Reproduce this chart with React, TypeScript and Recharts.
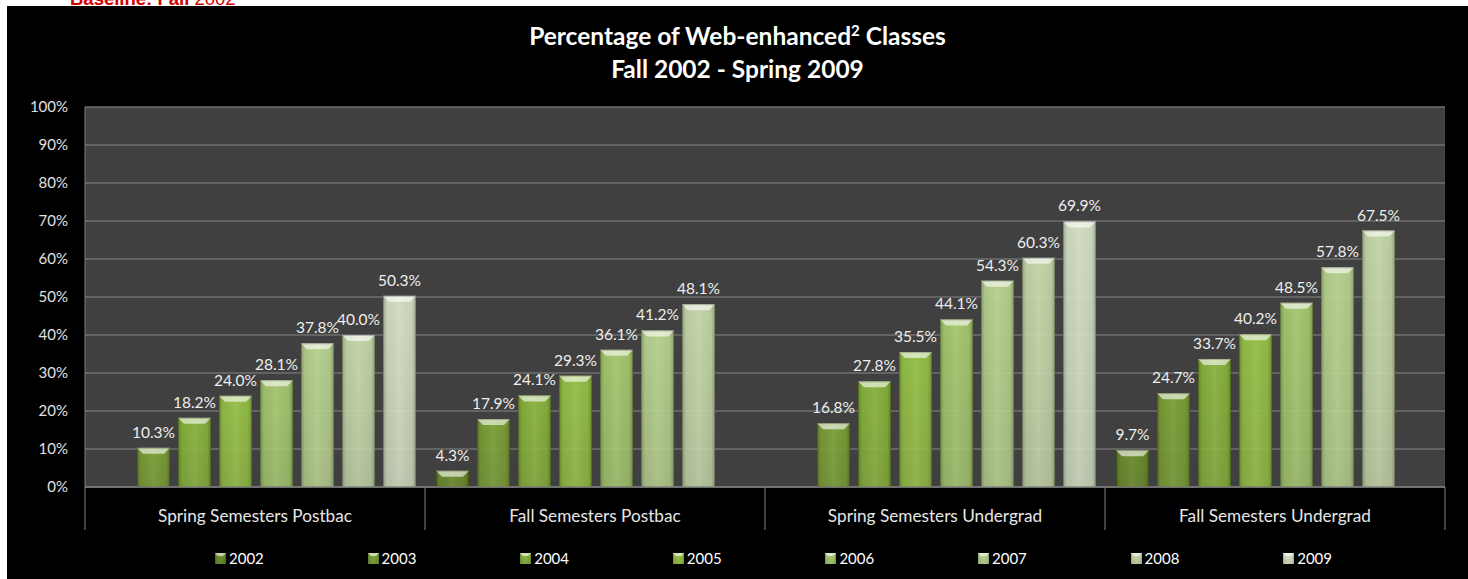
import { BarChart, Bar, XAxis, YAxis, CartesianGrid, Legend, LabelList } from "recharts";

const categories = [
  "Spring Semesters Postbac",
  "Fall Semesters Postbac",
  "Spring Semesters Undergrad",
  "Fall Semesters Undergrad",
];
const years = ["2002", "2003", "2004", "2005", "2006", "2007", "2008", "2009"];

// one value per category, null where the semester is not in the range
const y2002 = [null, 4.3, null, 9.7];
const y2003 = [10.3, 17.9, 16.8, 24.7];
const y2004 = [18.2, 24.1, 27.8, 33.7];
const y2005 = [24.0, 29.3, 35.5, 40.2];
const y2006 = [28.1, 36.1, 44.1, 48.5];
const y2007 = [37.8, 41.2, 54.3, 57.8];
const y2008 = [40.0, 48.1, 60.3, 67.5];
const y2009 = [50.3, null, 69.9, null];
const yTicks = [0, 10, 20, 30, 40, 50, 60, 70, 80, 90, 100];

const seriesValues = [y2002, y2003, y2004, y2005, y2006, y2007, y2008, y2009];
const COLORS = ["#6d8e2b", "#7ca234", "#8ab63b", "#97c445", "#a8cc6f", "#bbd690", "#c8dbab", "#d8e4c6"];

const data = categories.map((name, i) => {
  const row: Record<string, string | number | null> = { name };
  years.forEach((yr, s) => {
    row[yr] = seriesValues[s][i];
  });
  return row;
});

const W = 1461;
const H = 573;
const M = { top: 101, right: 23, bottom: 49, left: 0 };
const Y_W = 78;
const X_H = 43;
const HALF_BAND = (W - M.right - M.left - Y_W) / categories.length / 2;
const FONT = "Lato, 'Open Sans', sans-serif";

function GlossyBar(props: any) {
  const { x, y, width, height, dataKey } = props;
  if (height == null || height <= 0 || width <= 0) return null;
  const s = years.indexOf(String(dataKey));
  const bev = Math.min(6, height / 2);
  return (
    <g>
      <rect x={x} y={y} width={width} height={height} fill={`url(#gv${s})`} fillOpacity={0.95} />
      <rect x={x} y={y} width={width} height={height} fill="url(#gh)" />
      <polygon
        points={`${x},${y} ${x + width},${y} ${x + width - bev},${y + bev} ${x + bev},${y + bev}`}
        fill="#ffffff"
        fillOpacity={0.6}
      />
      <rect x={x + 0.5} y={y + 0.5} width={width - 1} height={height - 1} fill="none" stroke="#000" strokeOpacity={0.2} />
    </g>
  );
}

function CategoryTick(props: any) {
  const { x, y, payload, index } = props;
  const last = index === categories.length - 1;
  return (
    <g>
      <line x1={x - HALF_BAND} y1={y} x2={x - HALF_BAND} y2={y + X_H} stroke="#808080" />
      {last && <line x1={x + HALF_BAND} y1={y} x2={x + HALF_BAND} y2={y + X_H} stroke="#808080" />}
      <text x={x} y={y + 35} textAnchor="middle" fill="#e6e6e6" fontSize={17.2} fontFamily={FONT}>
        {payload.value}
      </text>
    </g>
  );
}

function LegendContent() {
  return (
    <div style={{ position: "relative", width: W, height: 20 }}>
      {years.map((yr, s) => (
        <div
          key={yr}
          style={{
            position: "absolute",
            left: 208 + s * 152.6,
            top: 0,
            display: "flex",
            alignItems: "center",
            color: "#ffffff",
            fontSize: 15,
            fontFamily: FONT,
            lineHeight: "20px",
          }}
        >
          <svg width={11} height={11} style={{ marginRight: 3 }}>
            <rect x={0} y={0} width={11} height={11} fill={`url(#gv${s})`} />
            <rect x={0} y={0} width={11} height={11} fill="url(#gh)" />
            <polygon points="0,0 11,0 8,3 3,3" fill="#fff" fillOpacity={0.6} />
          </svg>
          {yr}
        </div>
      ))}
    </div>
  );
}

export default function App() {
  return (
    <div style={{ position: "relative", width: 1468, height: 579, background: "#ffffff", overflow: "hidden" }}>
      <style>{"body{margin:0}"}</style>
      <div
        style={{
          position: "absolute",
          left: 70,
          top: -11,
          fontFamily: "'Liberation Sans', Arial, sans-serif",
          fontSize: 18.5,
          lineHeight: "20px",
          color: "#d40000",
          whiteSpace: "nowrap",
        }}
      >
        <b>Baseline: Fall</b> 2002
      </div>
      <div style={{ position: "absolute", left: 7, top: 6, width: W, height: H, background: "#000000" }}>
        <div
          style={{
            position: "absolute",
            left: 0,
            top: 13,
            width: W,
            textAlign: "center",
            color: "#ffffff",
            fontFamily: FONT,
            fontWeight: 700,
            fontSize: 24.5,
            lineHeight: "33px",
          }}
        >
          <div>
            Percentage of Web-enhanced<sup style={{ fontSize: 15, lineHeight: 0 }}>2</sup> Classes
          </div>
          <div>Fall 2002 - Spring 2009</div>
        </div>
        <BarChart width={W} height={H} data={data} margin={M} barCategoryGap={11} barGap={8}>
          <defs>
            {COLORS.map((c, s) => (
              <linearGradient key={c} id={`gv${s}`} x1="0" y1="0" x2="0" y2="1">
                <stop offset="0%" stopColor={c} stopOpacity={1} />
                <stop offset="100%" stopColor={c} stopOpacity={0.88} />
              </linearGradient>
            ))}
            <linearGradient id="gh" x1="0" y1="0" x2="1" y2="0">
              <stop offset="0%" stopColor="#000" stopOpacity={0.25} />
              <stop offset="12%" stopColor="#000" stopOpacity={0.04} />
              <stop offset="50%" stopColor="#fff" stopOpacity={0.06} />
              <stop offset="88%" stopColor="#000" stopOpacity={0.04} />
              <stop offset="100%" stopColor="#000" stopOpacity={0.25} />
            </linearGradient>
          </defs>
          <CartesianGrid vertical={false} fill="#404040" stroke="#6f6f6f" strokeWidth={1.5} />
          <XAxis
            dataKey="name"
            height={X_H}
            tickSize={0}
            tickMargin={0}
            axisLine={{ stroke: "#8a8a8a" }}
            tickLine={false}
            tick={<CategoryTick />}
            interval={0}
          />
          <YAxis
            width={Y_W}
            domain={[0, 100]}
            ticks={yTicks}
            tickFormatter={(v: number) => `${v}%`}
            tickSize={0}
            tickMargin={17}
            tickLine={false}
            axisLine={{ stroke: "#808080" }}
            tick={{ fill: "#e0e0e0", fontSize: 15, fontFamily: FONT }}
            interval={0}
          />
          <Legend
            layout="horizontal"
            verticalAlign="middle"
            align="center"
            wrapperStyle={{ left: 0, top: 542, width: W }}
            content={<LegendContent />}
          />
          {years.map((yr) => (
            <Bar key={yr} dataKey={yr} name={yr} shape={GlossyBar} isAnimationActive={false}>
              <LabelList
                dataKey={yr}
                position="top"
                offset={10}
                formatter={(v: any) => (v == null ? "" : `${Number(v).toFixed(1)}%`)}
                fill="#eeeeee"
                fontSize={15.5}
                fontFamily={FONT}
              />
            </Bar>
          ))}
        </BarChart>
      </div>
    </div>
  );
}
